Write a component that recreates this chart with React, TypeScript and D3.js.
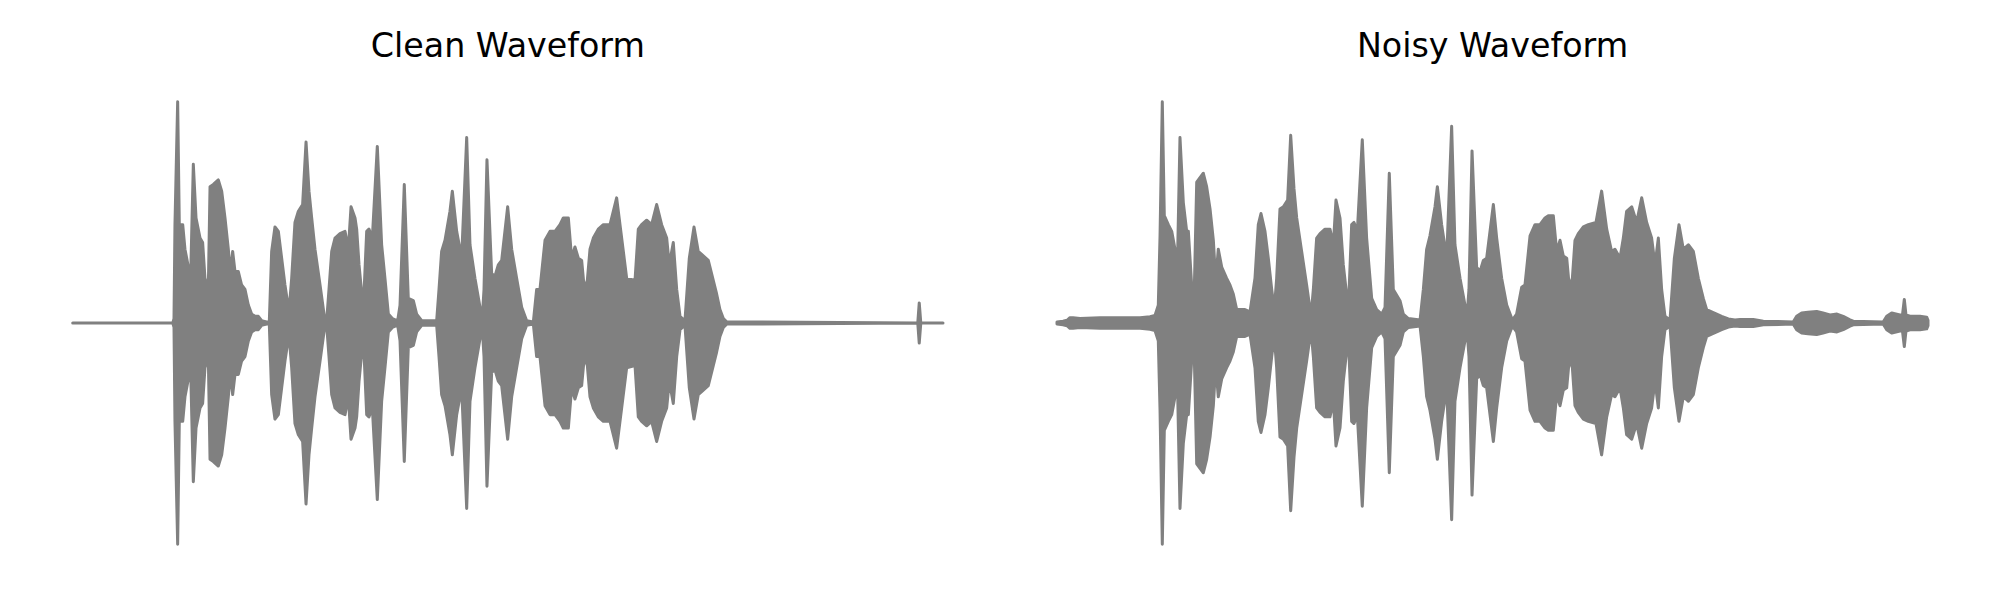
import React from "react";
import * as d3 from "d3";

const panelTitles = ["Clean Waveform", "Noisy Waveform"];

// time as % of clip, amplitude as envelope (normalized, symmetric)
const cleanTime = [
  0, 11.5, 11.64, 11.75, 12.06, 12.25, 12.64, 12.9, 13.29, 13.55, 13.86, 14.17, 14.63, 14.93, 15.2, 15.58,
  15.78, 16.16, 16.73, 17.12, 17.5, 17.88, 18.15, 18.38, 18.65, 19.03, 19.41, 19.8, 20.18, 20.56, 20.95,
  21.33, 21.71, 22.29, 22.59, 22.86, 23.24, 23.63, 24.01, 24.39, 24.85, 25.16, 25.54, 25.93, 26.42, 26.81,
  27.15, 27.46, 27.84, 28.42, 28.91, 29.18, 29.45, 29.76, 30.14, 30.71, 31.29, 31.67, 31.98, 32.44, 32.63,
  32.9, 33.39, 33.78, 34.04, 34.43, 35.0, 35.5, 35.88, 36.27, 36.73, 37.34, 37.61, 38.1, 38.56, 39.14,
  39.52, 40.1, 41.82, 42.09, 42.39, 42.78, 43.35, 43.62, 44.12, 44.69, 45.27, 45.65, 46.22, 46.8, 47.07,
  47.26, 47.6, 48.14, 48.52, 48.9, 49.29, 49.98, 50.44, 51.01, 51.59, 52.16, 52.93, 53.31, 53.69, 54.27,
  54.84, 55.42, 55.99, 56.37, 56.95, 57.33, 57.71, 58.1, 58.48, 58.79, 59.13, 59.44, 59.82, 60.39, 60.97,
  61.74, 62.5, 63.08, 63.65, 64.61, 64.99, 65.37, 65.95, 66.52, 67.1, 67.67, 68.25, 68.55, 69.01, 69.4,
  69.78, 70.35, 70.85, 71.39, 71.88, 72.46, 73.03, 73.61, 73.99, 74.37, 74.76, 75.14, 97.1, 97.27, 97.45, 100,
];
const cleanAmp = [
  0, 0, 0.02, 0.44, 0.99, 0.44, 0.44, 0.33, 0.25, 0.2, 0.71, 0.47, 0.38, 0.36, 0.2, 0.15,
  0.61, 0.62, 0.64, 0.59, 0.47, 0.33, 0.22, 0.32, 0.23, 0.23, 0.17, 0.15, 0.08, 0.04, 0.03,
  0.03, 0.01, 0.005, 0.005, 0.32, 0.43, 0.41, 0.29, 0.17, 0.05, 0.2, 0.45, 0.5, 0.53, 0.81,
  0.59, 0.47, 0.33, 0.17, 0.03, 0.01, 0.15, 0.32, 0.38, 0.4, 0.41, 0.33, 0.52, 0.47, 0.42,
  0.26, 0.06, 0.41, 0.42, 0.38, 0.79, 0.35, 0.2, 0.04, 0.02, 0.01, 0.08, 0.62, 0.11, 0.1,
  0.04, 0.01, 0.01, 0.15, 0.32, 0.37, 0.5, 0.59, 0.41, 0.29, 0.83, 0.35, 0.2, 0.07, 0.03,
  0.15, 0.73, 0.22, 0.21, 0.26, 0.28, 0.52, 0.33, 0.2, 0.07, 0.01, 0.005, 0.15, 0.15, 0.37,
  0.41, 0.41, 0.44, 0.47, 0.47, 0.29, 0.34, 0.29, 0.28, 0.15, 0.19, 0.33, 0.38, 0.42, 0.44,
  0.44, 0.56, 0.38, 0.2, 0.19, 0.42, 0.44, 0.46, 0.44, 0.53, 0.44, 0.38, 0.26, 0.36, 0.15,
  0.03, 0.01, 0.29, 0.43, 0.32, 0.3, 0.28, 0.19, 0.13, 0.06, 0.02, 0.005, 0, 0.09, 0, 0,
];

const noisyTime = [
  0, 0.69, 1.15, 1.49, 1.84, 2.64, 4.94, 7.23, 9.53, 10.68, 11.25, 11.63, 11.83, 12.09, 12.32, 12.78,
  13.17, 13.55, 13.78, 14.12, 14.5, 14.89, 15.08, 15.46, 15.77, 16.04, 16.8, 17.18, 17.57, 17.95, 18.22,
  18.52, 18.91, 19.48, 19.86, 20.24, 20.63, 21.01, 21.58, 22.16, 22.73, 23.11, 23.42, 23.88, 24.26, 24.65,
  24.95, 25.22, 25.6, 25.99, 26.48, 26.83, 27.21, 27.52, 28.09, 28.66, 29.16, 29.43, 29.81, 30.2, 30.77,
  31.34, 31.73, 32.03, 32.49, 32.87, 33.45, 33.83, 34.1, 34.48, 35.05, 35.55, 36.13, 36.7, 37.28, 37.66,
  38.15, 38.61, 39.38, 39.76, 40.34, 41.68, 42.06, 42.44, 42.82, 43.4, 43.67, 44.16, 44.74, 45.31, 45.69,
  46.27, 46.84, 47.11, 47.3, 47.65, 48.18, 48.56, 48.95, 49.33, 50.1, 50.48, 51.05, 51.63, 52.28, 52.77,
  53.35, 53.73, 54.31, 54.88, 55.45, 56.03, 56.41, 56.98, 57.37, 57.75, 58.13, 58.52, 58.82, 59.17, 59.47,
  59.85, 60.43, 61.0, 61.88, 62.53, 63.11, 63.68, 64.06, 64.64, 65.02, 65.4, 65.98, 66.55, 67.13, 67.7,
  68.27, 68.66, 69.04, 69.42, 69.8, 70.38, 70.88, 71.41, 71.91, 72.48, 73.06, 73.63, 74.2, 74.59, 75.16,
  75.74, 76.31, 77.08, 77.84, 78.42, 79.94, 81.09, 84.54, 84.92, 85.5, 86.22, 87.22, 87.94, 88.75, 89.55,
  90.27, 91.04, 91.42, 94.87, 95.26, 95.83, 96.78, 97.07, 97.28, 97.47, 97.93, 99.08, 99.85, 100,
];
const noisyAmp = [
  0.005, 0.008, 0.012, 0.024, 0.024, 0.02, 0.024, 0.024, 0.024, 0.028, 0.034, 0.08, 0.39, 0.99, 0.48, 0.44,
  0.41, 0.33, 0.17, 0.83, 0.54, 0.41, 0.41, 0.17, 0.16, 0.63, 0.67, 0.61, 0.51, 0.37, 0.19,
  0.33, 0.25, 0.2, 0.17, 0.13, 0.06, 0.06, 0.06, 0.05, 0.2, 0.44, 0.49, 0.41, 0.29, 0.15,
  0.06, 0.2, 0.51, 0.52, 0.55, 0.84, 0.6, 0.47, 0.32, 0.17, 0.03, 0.15, 0.38, 0.4, 0.42,
  0.42, 0.35, 0.55, 0.47, 0.26, 0.06, 0.44, 0.45, 0.41, 0.82, 0.38, 0.11, 0.06, 0.04, 0.07,
  0.67, 0.15, 0.1, 0.04, 0.02, 0.013, 0.15, 0.33, 0.39, 0.52, 0.61, 0.44, 0.29, 0.88, 0.35,
  0.2, 0.08, 0.05, 0.15, 0.77, 0.25, 0.23, 0.28, 0.29, 0.53, 0.38, 0.2, 0.08, 0.013, 0.04,
  0.16, 0.17, 0.39, 0.44, 0.44, 0.47, 0.48, 0.48, 0.32, 0.37, 0.3, 0.29, 0.16, 0.2, 0.37,
  0.4, 0.43, 0.44, 0.45, 0.59, 0.42, 0.32, 0.33, 0.29, 0.38, 0.5, 0.52, 0.45, 0.56, 0.45,
  0.38, 0.26, 0.38, 0.15, 0.03, 0.013, 0.29, 0.44, 0.33, 0.35, 0.32, 0.2, 0.11, 0.06, 0.05,
  0.04, 0.03, 0.018, 0.014, 0.016, 0.016, 0.008, 0.005, 0.03, 0.045, 0.048, 0.052, 0.045, 0.036, 0.04,
  0.03, 0.014, 0.008, 0.005, 0.03, 0.045, 0.036, 0.036, 0.105, 0.036, 0.03, 0.03, 0.026, 0.012,
];

const W = 2000;
const H = 600;
const COLOR = "#808080";

type Pt = { t: number; a: number };

function Panel({ title, times, amps, x0, x1 }: { title: string; times: number[]; amps: number[]; x0: number; x1: number }) {
  const data: Pt[] = times.map((t, i) => ({ t, a: amps[i] }));
  const x = d3.scaleLinear().domain([0, 100]).range([x0, x1]);
  const y = d3.scaleLinear().domain([-1, 1]).range([323 + 223.5, 323 - 223.5]);
  const area = d3
    .area<Pt>()
    .x((d) => x(d.t))
    .y0((d) => y(-d.a))
    .y1((d) => y(d.a));
  return (
    <g>
      <text
        x={(x0 + x1) / 2}
        y={57}
        textAnchor="middle"
        fontFamily="DejaVu Sans"
        fontSize={33.3}
        fill="#000"
      >
        {title}
      </text>
      <path d={area(data) || ""} fill={COLOR} stroke={COLOR} strokeWidth={3} strokeLinejoin="round" strokeLinecap="round" />
    </g>
  );
}

export default function App() {
  return (
    <svg width={W} height={H} style={{ position: "absolute", left: 0, top: 0, background: "#fff" }}>
      <rect width={W} height={H} fill="#fff" />
      <Panel title={panelTitles[0]} times={cleanTime} amps={cleanAmp} x0={72.7} x1={943} />
      <Panel title={panelTitles[1]} times={noisyTime} amps={noisyAmp} x0={1057} x1={1928} />
    </svg>
  );
}
